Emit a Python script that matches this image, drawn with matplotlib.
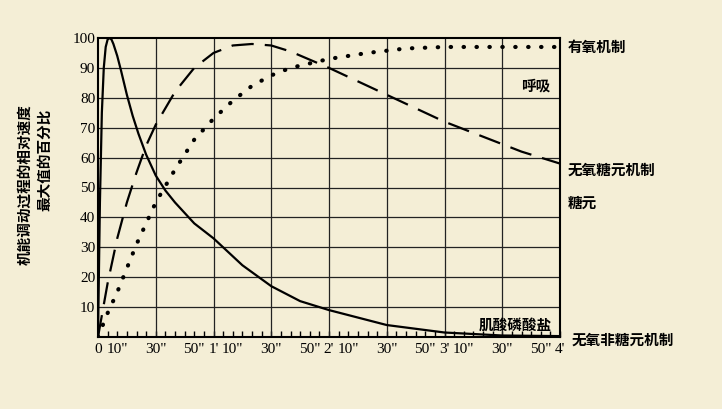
import matplotlib
matplotlib.use("Agg")
import matplotlib.pyplot as plt
import numpy as np

plt.rcParams['font.family'] = ['Noto Sans CJK SC', 'DejaVu Sans']

t_cp = [0, 1, 2, 3, 4, 5, 6, 7, 8, 10, 12, 15, 18, 21, 25, 30, 35, 40, 50, 60, 75, 90, 105, 120, 150, 180, 210, 240]
v_cp = [0, 45, 75, 90, 97, 99.5, 100, 99.5, 98, 94, 89, 81, 74, 68, 61, 54, 49, 45, 38, 33, 24, 17, 12, 9, 4, 1.5, 0.5, 0.3]
t_gl = [0, 5, 10, 15, 20, 25, 30, 40, 50, 60, 70, 80, 90, 100, 120, 140, 160, 180, 200, 220, 240]
v_gl = [0, 18, 33, 45, 55, 64, 71, 82, 90, 95, 97.5, 98, 97.5, 95.5, 90, 84, 78, 72, 67, 62, 58]
t_ox = [0, 5, 10, 15, 20, 30, 40, 50, 60, 70, 80, 90, 100, 120, 140, 160, 180, 200, 220, 240]
v_ox = [0, 8, 15, 23, 31, 45, 56, 66, 73, 79, 84, 87.5, 90, 93, 95, 96.5, 97, 97, 97, 97]

ticks = [0, 10, 30, 50, 60, 70, 90, 110, 120, 130, 150, 170, 180, 190, 210, 230, 240]
tick_labels = ['0', '10"', '30"', '50"', "1'", '10"', '30"', '50"', "2'", '10"', '30"', '50"', "3'", '10"', '30"', '50"', "4'"]

bg = '#f4eed6'
fig = plt.figure(figsize=(7.22, 4.09), dpi=100, facecolor=bg)
ax = fig.add_axes([98/722, 1-337/409, 462/722, 299/409], facecolor=bg)
ax.set_xlim(0, 240); ax.set_ylim(0, 100)
ax.set_xticks(ticks); ax.set_xticklabels(tick_labels, fontsize=11, family=['Liberation Serif'])
ax.set_xticks(np.arange(0, 241, 5), minor=True)
ax.set_yticks(np.arange(10, 101, 10))
ax.set_yticklabels([str(v) for v in range(10, 101, 10)], fontsize=11, family=['Liberation Serif'])
for x in range(30, 240, 30):
    ax.axvline(x, color='#222', lw=0.9)
for y in range(10, 100, 10):
    ax.axhline(y, color='#222', lw=0.9)
ax.tick_params(axis='x', which='both', direction='in', length=4, width=1, pad=4)
ax.tick_params(axis='y', length=0, pad=2)
for s in ax.spines.values():
    s.set_linewidth(1.5)

ax.plot(t_cp, v_cp, color='black', lw=1.6)
ax.plot(t_gl, v_gl, color='black', lw=1.6, dashes=(10, 5))
ax.plot(t_ox, v_ox, color='black', lw=3, linestyle=(0, (0.1, 3)), dash_capstyle='round')

kw = dict(fontsize=10.5, fontweight='bold')
ax.text(244, 97, '有氧机制', va='center', clip_on=False, **kw)
ax.text(235, 84, '呼吸', va='center', ha='right', **kw)
ax.text(244, 56, '无氧糖元机制', va='center', clip_on=False, **kw)
ax.text(244, 45, '糖元', va='center', clip_on=False, **kw)
ax.text(236, 4, '肌酸磷酸盐', va='center', ha='right', **kw)
ax.text(246, -1, '无氧非糖元机制', va='center', clip_on=False, **kw)

fig.text(24/722, 1-185/409, '机能调动过程的相对速度', rotation=90, ha='center', va='center', **kw)
fig.text(44/722, 1-160/409, '最大值的百分比', rotation=90, ha='center', va='center', **kw)

fig.savefig('out.png', dpi=100, facecolor=bg)
